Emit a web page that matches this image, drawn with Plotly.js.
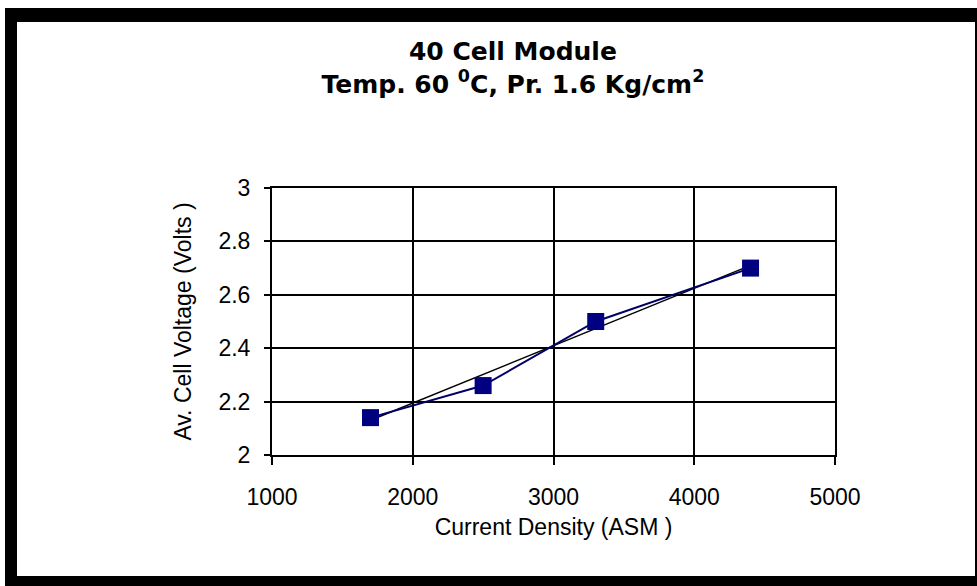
<!DOCTYPE html>
<html>
<head>
<meta charset="utf-8">
<script src="https://cdn.plot.ly/plotly-3.0.1.min.js"></script>
<style>
  html, body { margin: 0; padding: 0; background: #ffffff; overflow: hidden; }
  #wrap { position: relative; width: 977px; height: 586px; overflow: hidden; }
  #chart { position: absolute; left: 0; top: 0; width: 977px; height: 586px; }
  #frame { position: absolute; left: 5px; top: 8px; width: 982px; height: 580px;
           box-sizing: border-box; border: 12px solid #000; border-top-width: 14px;
           pointer-events: none; }
</style>
</head>
<body>
<div id="wrap">
  <div id="chart"></div>
  <div id="frame"></div>
</div>
<script>
// Data
const currentDensity = [1700, 2500, 3300, 4400];      // A/m^2 (ASM)
const cellVoltage    = [2.14, 2.26, 2.50, 2.70];      // Volts
// Linear trendline endpoints (as drawn in the reference)
const trendX = [1700, 4400];
const trendY = [2.13, 2.71];

const xTicks = [1000, 2000, 3000, 4000, 5000];
const yTicks = [2, 2.2, 2.4, 2.6, 2.8, 3];
const yTickText = ['2', '2.2', '2.4', '2.6', '2.8', '3'];

const FONT = 'Arial, "Liberation Sans", sans-serif';
const TITLE_FONT = '"DejaVu Sans", Arial, sans-serif';

const traces = [
  {
    x: trendX, y: trendY, type: 'scatter', mode: 'lines',
    line: { color: '#000000', width: 1.5 },
    hoverinfo: 'skip', showlegend: false
  },
  {
    x: currentDensity, y: cellVoltage, type: 'scatter', mode: 'lines+markers',
    line: { color: '#000066', width: 2 },
    marker: { symbol: 'square', size: 17, color: '#000080', line: { width: 0 } },
    showlegend: false
  }
];

const layout = {
  width: 977, height: 586,
  paper_bgcolor: '#ffffff', plot_bgcolor: '#ffffff',
  margin: { l: 272, r: 142, t: 188, b: 131 },
  font: { family: FONT, color: '#000000' },
  title: {
    text: '<b>40 Cell Module<br>Temp. 60 <sup>0</sup>C, Pr. 1.6 Kg/cm<sup>2</sup></b>',
    font: { family: TITLE_FONT, size: 25, color: '#000000' },
    x: 0.525, xanchor: 'center', xref: 'container',
    y: 1 - 60 / 586, yanchor: 'top', yref: 'container'
  },
  xaxis: {
    range: [1000, 5000],
    tickvals: xTicks, ticktext: xTicks.map(String),
    showgrid: true, gridcolor: '#000000', gridwidth: 2,
    showline: true, linecolor: '#000000', linewidth: 2, mirror: true,
    ticks: 'outside', ticklen: 8, tickwidth: 2, tickcolor: '#000000',
    tickfont: { family: FONT, size: 23, color: '#000000' },
    ticklabelstandoff: 12,
    zeroline: false,
    title: { text: 'Current Density (ASM )', font: { family: FONT, size: 23, color: '#000000' }, standoff: 10 }
  },
  yaxis: {
    range: [2, 3],
    tickvals: yTicks, ticktext: yTickText,
    showgrid: true, gridcolor: '#000000', gridwidth: 2,
    showline: true, linecolor: '#000000', linewidth: 2, mirror: true,
    ticks: 'outside', ticklen: 6, tickwidth: 2, tickcolor: '#000000',
    tickfont: { family: FONT, size: 23, color: '#000000' },
    ticklabelstandoff: 9,
    zeroline: false,
    title: { text: 'Av. Cell Voltage (Volts )', font: { family: FONT, size: 23, color: '#000000' }, standoff: 20 }
  }
};

Plotly.newPlot('chart', traces, layout, { displayModeBar: false, staticPlot: true });
</script>
</body>
</html>
